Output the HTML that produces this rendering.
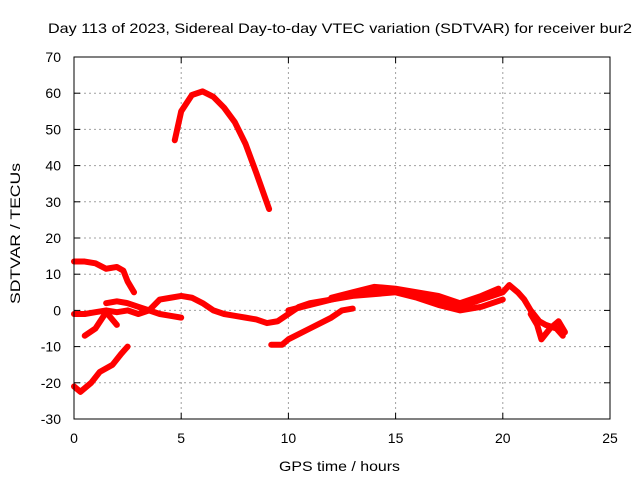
<!DOCTYPE html>
<html><head><meta charset="utf-8"><style>
body{margin:0;background:#fff}
svg text{font-family:"Liberation Sans",sans-serif;font-size:14px;fill:#000}
</style></head><body>
<svg width="640" height="480" id="c">
<text x="48" y="33" textLength="584" lengthAdjust="spacingAndGlyphs">Day 113 of 2023, Sidereal Day-to-day VTEC variation (SDTVAR) for receiver bur2</text>
<text x="279" y="471" textLength="121" lengthAdjust="spacingAndGlyphs">GPS time / hours</text>
<text transform="translate(20,304) rotate(-90)" textLength="141" lengthAdjust="spacingAndGlyphs">SDTVAR / TECUs</text>
<g id="grid"></g><g id="ticks"></g><g id="series"></g>
<rect x="74" y="57" width="536" height="362" fill="none" stroke="#000"/>
</svg>
<script>
const xTicks=[0,5,10,15,20,25];
const yTicks=[-30,-20,-10,0,10,20,30,40,50,60,70];
const arcSeries=[[4.7,47],[5.0,55],[5.5,59.5],[6.0,60.5],[6.5,59],[7,56],[7.5,52],[8,46],[8.5,38],[9.1,28]];
const upperLeftSeries=[[0,13.5],[0.5,13.5],[1,13],[1.5,11.5],[2,12],[2.3,11],[2.5,8],[2.8,5]];
const mainSeries=[[0,-1],[0.5,-1],[1,-0.5],[1.5,0],[2,-0.5],[2.5,0],[3,-1],[3.5,0],[4,3],[4.5,3.5],[5,4],[5.5,3.5],[6,2],[6.5,0],[7,-1],[7.5,-1.5],[8,-2],[8.5,-2.5],[9,-3.5],[9.5,-3],[10,-1],[10.5,1],[11,2],[12,3],[13,4.5],[14,5.5],[15,5.5],[16,4],[17,3],[18,1],[19,3],[19.5,4],[20,5],[20.3,7],[20.7,5],[21,3],[21.3,0],[21.7,-3],[22,-4],[22.5,-5],[22.8,-7]];
const strandSeries=[[1.5,2],[2,2.5],[2.5,2],[3,1],[3.5,0],[4,-1],[4.5,-1.5],[5,-2]];
const spurSeries=[[0.5,-7],[1,-5],[1.5,-0.5],[2,-4]];
const bottomSeries=[[0,-21],[0.3,-22.5],[0.8,-20],[1.2,-17],[1.8,-15],[2.2,-12],[2.5,-10]];
const riseSeries=[[9.2,-9.5],[9.7,-9.5],[10,-8],[11,-5],[12,-2],[12.5,0],[13,0.5]];
const rightSeries=[[10,0],[11,1.5],[12,3],[13,4],[14,4.5],[15,5],[16,3.5],[17,1.5],[18,0],[19,1],[20,3]];
const upperBandSeries=[[12,3.5],[13,5],[14,6.5],[15,6],[16,5],[17,4],[18,2],[19,4],[19.8,6]];
const tailSeries=[[21.3,-1],[21.6,-4],[21.8,-8],[22.2,-5],[22.6,-3],[22.9,-6]];
const X=v=>74+v*536/25, Y=v=>419-(v+30)*3.62;
const NS="http://www.w3.org/2000/svg";
function mk(t,a,p){const e=document.createElementNS(NS,t);for(const k in a)e.setAttribute(k,a[k]);p.appendChild(e);return e;}
const g=document.getElementById('grid'),tk=document.getElementById('ticks'),sg=document.getElementById('series');
xTicks.forEach(v=>{
 if(v>0&&v<25){const l=mk('line',{x1:X(v),x2:X(v),y1:57,y2:419,stroke:'#a0a0a0','stroke-dasharray':'2,3'},g);
 
 }
 mk('line',{x1:X(v),x2:X(v),y1:419,y2:413,stroke:'#000'},tk);
 mk('line',{x1:X(v),x2:X(v),y1:57,y2:63,stroke:'#000'},tk);
 const t=mk('text',{x:X(v),y:443,'text-anchor':'middle'},tk);t.textContent=v;
 
 
});
yTicks.forEach(v=>{
 if(v>-30&&v<70){const l=mk('line',{x1:74,x2:610,y1:Y(v),y2:Y(v),stroke:'#a0a0a0','stroke-dasharray':'2,3'},g);
 
 }
 mk('line',{x1:74,x2:80,y1:Y(v),y2:Y(v),stroke:'#000'},tk);
 mk('line',{x1:604,x2:610,y1:Y(v),y2:Y(v),stroke:'#000'},tk);
 const t=mk('text',{x:61,y:Y(v)+5,'text-anchor':'end'},tk);t.textContent=v;
 
 
});
[arcSeries,upperLeftSeries,mainSeries,strandSeries,spurSeries,bottomSeries,riseSeries,rightSeries,upperBandSeries,tailSeries].forEach(s=>{
 const p=mk('polyline',{points:s.map(d=>X(d[0])+','+Y(d[1])).join(' '),fill:'none',stroke:'#ff0000','stroke-width':6,'stroke-linejoin':'round','stroke-linecap':'round'},sg);
 
 
});
</script>
</body></html>
